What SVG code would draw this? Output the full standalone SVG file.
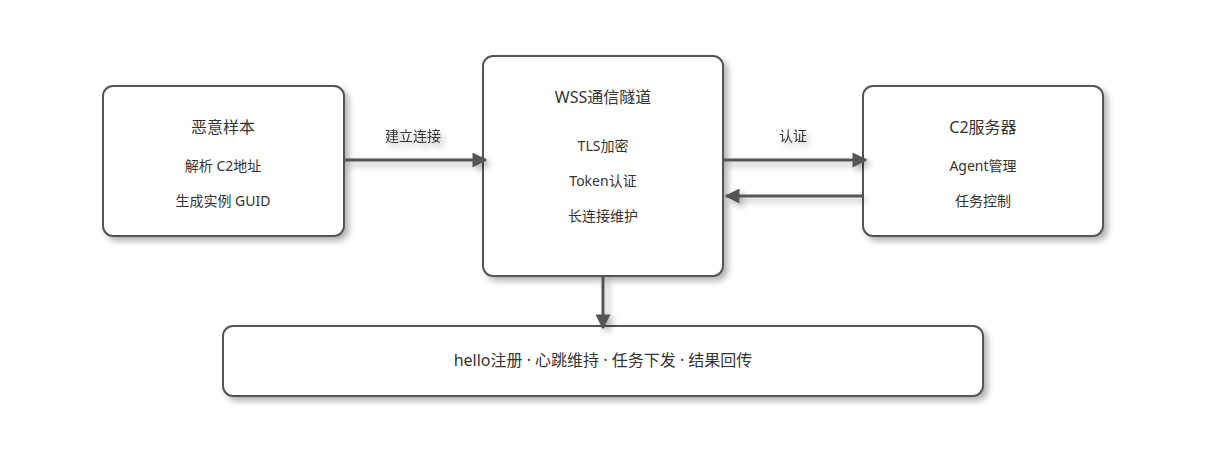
<svg xmlns="http://www.w3.org/2000/svg" width="1214" height="450" viewBox="0 0 1214 450">
<style>
.box{fill:#fff;stroke:#555;stroke-width:2;filter:url(#sh)}
.t{font-family:"Noto Sans","Noto Sans CJK SC",sans-serif;fill:#333;text-anchor:middle}
.h{font-size:16px}
.b{font-size:14px}
.c{stroke:#555;stroke-width:3;fill:none;marker-end:url(#a)}
</style>
<defs>
<filter id="sh" x="-10%" y="-10%" width="130%" height="140%"><feDropShadow dx="4" dy="4" stdDeviation="3" flood-color="#000" flood-opacity="0.3"/></filter>
<marker id="a" viewBox="0 0 10 10" refX="9" refY="5" markerWidth="8.5" markerHeight="5" orient="auto" markerUnits="strokeWidth"><path d="M0,0L10,5L0,10z" fill="#555"/></marker>
</defs>
<rect width="1214" height="450" fill="#fff"/>
<g id="n1"><rect class="box" x="103" y="86" width="241" height="150" rx="10"/>
<text class="t h" x="223" y="133">恶意样本</text><text class="t b" x="223" y="171">解析 C2地址</text><text class="t b" x="223" y="206">生成实例 GUID</text></g>
<g id="n2"><rect class="box" x="483" y="56" width="240" height="220" rx="10"/>
<text class="t h" x="603" y="103">WSS通信隧道</text><text class="t b" x="603" y="151">TLS加密</text><text class="t b" x="603" y="186">Token认证</text><text class="t b" x="603" y="221">长连接维护</text></g>
<g id="n3"><rect class="box" x="863" y="86" width="240" height="150" rx="10"/>
<text class="t h" x="983" y="133">C2服务器</text><text class="t b" x="983" y="171">Agent管理</text><text class="t b" x="983" y="206">任务控制</text></g>
<g id="n4"><rect class="box" x="223" y="326" width="760" height="70" rx="10"/>
<text class="t h" x="603" y="366">hello注册 · 心跳维持 · 任务下发 · 结果回传</text></g>
<g id="connectors" filter="url(#sh)">
<path class="c" d="M344,160H486"/>
<path class="c" d="M723,160H866"/>
<path class="c" d="M863,196H726"/>
<path class="c" d="M603,276V328"/>
<text class="t b" x="413" y="141">建立连接</text>
<text class="t b" x="793" y="141">认证</text>
</g>
</svg>
